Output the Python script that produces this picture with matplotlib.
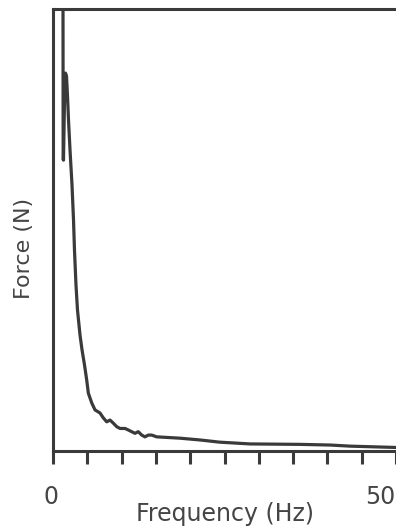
import matplotlib
matplotlib.use("Agg")
import matplotlib.pyplot as plt
import matplotlib.transforms as mtransforms

# Data (force in arbitrary units, axis top = 100)
freq = [1.44, 1.48, 1.53, 1.68, 1.82, 1.97, 2.11, 2.26, 2.48, 2.77, 2.99, 3.13,
        3.35, 3.57, 3.94, 4.23, 4.59, 4.91, 5.15, 5.64, 6.12, 6.85, 7.33, 7.83,
        8.31, 8.79, 9.29, 9.77, 10.5, 10.98, 11.47, 11.95, 12.43, 12.93, 13.41,
        13.89, 14.39, 15.12, 18.5, 21.4, 24.3, 28.7, 36.0, 40.4, 43.3, 50.0]
force = [130, 66, 65.8, 79.4, 85.5, 84.8, 80.5, 74.9, 68.1, 60.2, 52.3, 45.5,
         37.6, 31.9, 26.2, 22.9, 19.5, 16.1, 13.1, 10.9, 9.3, 8.6, 7.5, 6.6,
         7.0, 6.3, 5.5, 5.1, 5.1, 4.75, 4.37, 4.0, 4.37, 3.6, 3.2,
         3.6, 3.6, 3.2, 2.9, 2.5, 2.0, 1.6, 1.5, 1.35, 1.1, 0.8]
xticks = [0, 5, 10, 15, 20, 25, 30, 35, 40, 45, 50]
xtick_labels = ["0", "50"]
xlabel = "Frequency (Hz)"
ylabel = "Force (N)"

W, H = 396, 527
DPI = 100
fig = plt.figure(figsize=(W / DPI, H / DPI), dpi=DPI)
fig.patch.set_facecolor("white")

ink = "#3a3a3a"
txt = "#454545"

left, right, top, bottom = 53, 396, 9, 451
ax = fig.add_axes([left / W, 1 - bottom / H, (right - left) / W, (bottom - top) / H])
ax.set_xlim(0, 50)
ax.set_ylim(0, 100)
ax.plot(freq, force, color=ink, lw=2.3, solid_joinstyle="round", solid_capstyle="round")

for s in ["left", "top", "bottom"]:
    ax.spines[s].set_linewidth(2.2)
    ax.spines[s].set_color(ink)
ax.spines["right"].set_visible(False)

ax.set_yticks([])
ax.set_xticks(xticks)
ax.set_xticklabels([])
ax.tick_params(axis="x", direction="out", length=9, width=2.2, color=ink)

# tick labels for first and last tick
t0 = mtransforms.offset_copy(ax.get_xaxis_transform(), fig=fig, x=-2, y=-46, units="dots")
ax.text(xticks[0], 0, xtick_labels[0], transform=t0, ha="center", va="center",
        fontsize=17, color=txt, clip_on=False)
t1 = mtransforms.offset_copy(ax.get_xaxis_transform(), fig=fig, x=-1, y=-46, units="dots")
ax.text(xticks[-1], 0, xtick_labels[1], transform=t1, ha="right", va="center",
        fontsize=17, color=txt, clip_on=False)

fig.text(225 / W, 1 - 514 / H, xlabel, ha="center", va="center", fontsize=17, color=txt)
fig.text(24 / W, 1 - 248 / H, ylabel, ha="center", va="center", rotation=90,
         fontsize=16, color=txt)

fig.savefig("out.png", dpi=DPI, facecolor="white")
